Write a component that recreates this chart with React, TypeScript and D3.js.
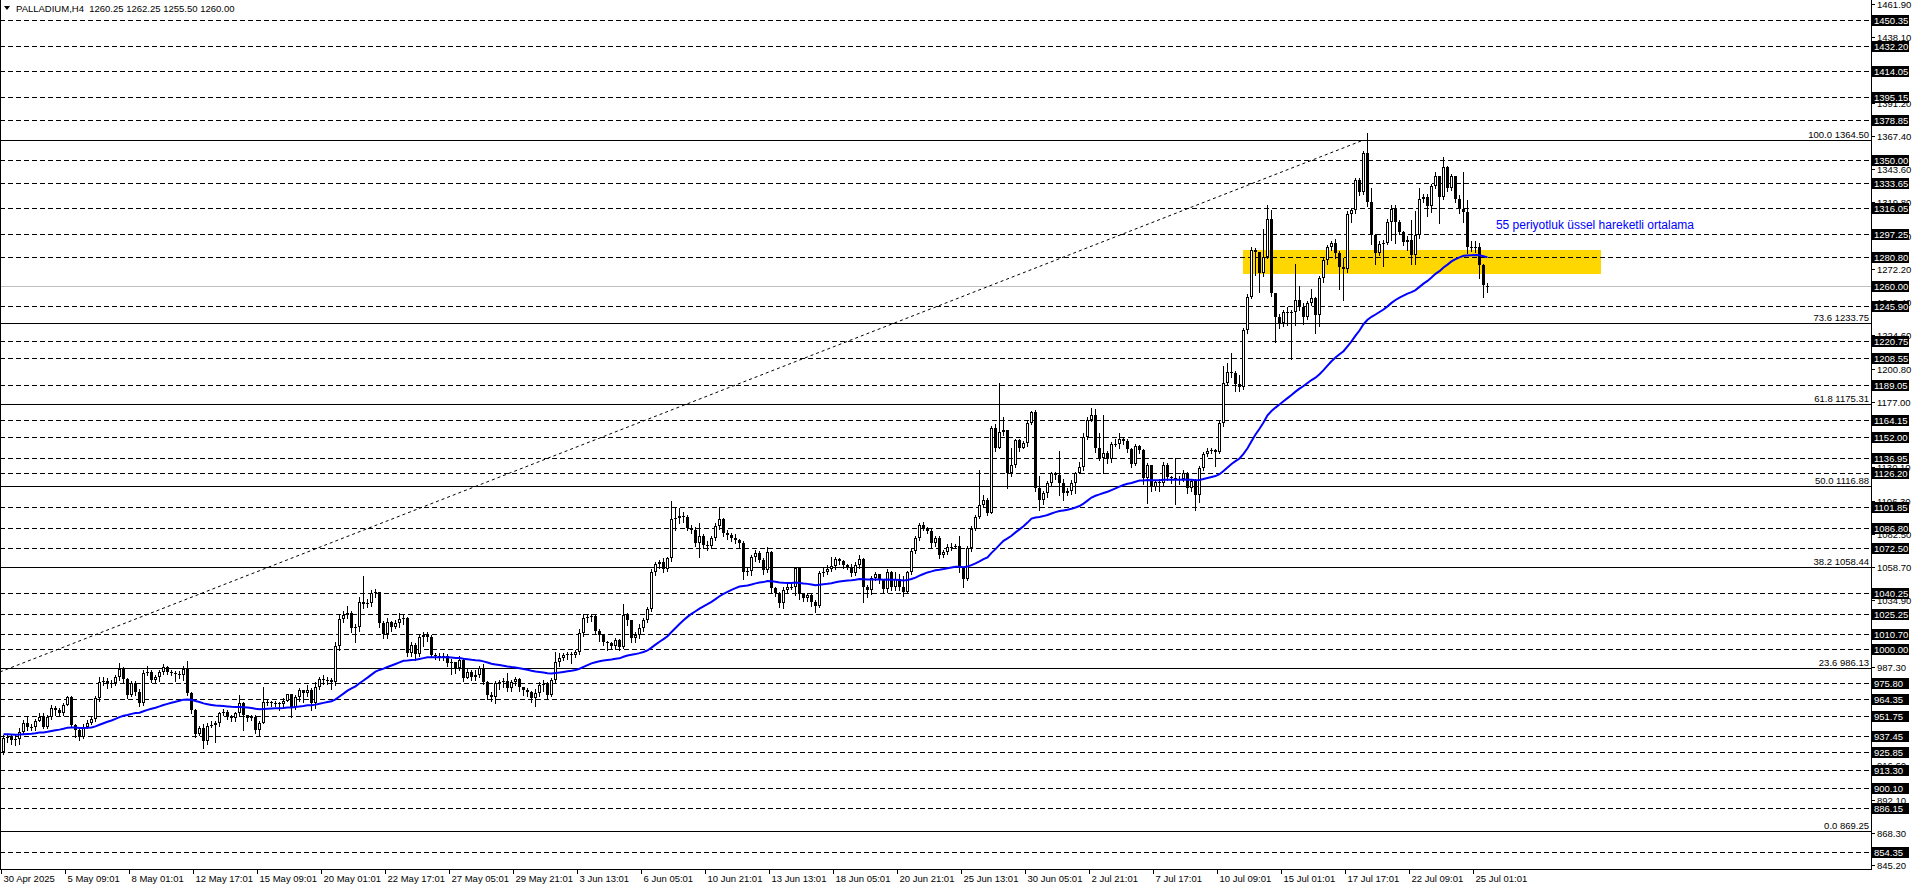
import React from "react";
import * as d3 from "d3";

const headerText = "PALLADIUM,H4  1260.25 1262.25 1255.50 1260.00";
const firstOpen = 926.4;
const lastOpen = 1260.25;

const closes = [
  935.9, 937.1, 934.7, 935.2, 940.7, 946.7, 944.3, 943.8, 948.4, 951.5,
  944.3, 951.5, 957.4, 956.2, 954.3, 959.8, 965.3, 945.5, 941.9, 937.1,
  944.3, 947.2, 949.5, 964.6, 976.5, 977.2, 974.6, 975.3, 979.6, 985.4,
  978.2, 967.0, 975.8, 969.4, 961.0, 983.0, 983.7, 977.7, 979.6, 983.5,
  986.8, 983.5, 982.5, 982.0, 981.1, 985.6, 968.2, 956.2, 938.8, 943.6,
  934.3, 945.0, 945.5, 946.7, 953.8, 955.0, 952.2, 950.3, 953.8, 961.0,
  952.6, 950.7, 951.5, 941.9, 947.2, 962.2, 961.7, 961.5, 961.0, 960.3,
  962.7, 967.5, 958.6, 965.3, 970.6, 968.2, 970.6, 961.0, 972.9, 978.2,
  977.7, 977.7, 976.5, 1002.3, 1021.2, 1024.3, 1025.5, 1014.7, 1015.9, 1033.8,
  1031.9, 1033.1, 1040.3, 1040.7, 1018.8, 1010.4, 1019.5, 1016.0, 1018.3, 1021.2,
  1021.9, 996.8, 1002.8, 996.3, 1008.8, 1010.0, 1008.8, 995.6, 994.9, 994.4,
  995.0, 990.1, 990.9, 986.1, 992.0, 979.4, 983.7, 980.1, 981.5, 986.1,
  976.5, 967.0, 965.8, 975.3, 976.5, 976.9, 971.7, 976.5, 978.2, 972.5,
  970.6, 969.4, 964.6, 968.2, 974.1, 974.8, 967.0, 977.7, 990.9, 993.2,
  995.6, 996.3, 995.6, 998.0, 1011.2, 1021.9, 1022.8, 1023.6, 1013.1, 1010.0,
  1005.2, 1004.0, 1002.1, 1006.4, 1001.6, 1024.0, 1021.0, 1008.0, 1010.0, 1015.3,
  1020.5, 1028.4, 1055.3, 1060.6, 1062.5, 1057.0, 1064.9, 1092.8, 1093.5, 1095.2,
  1094.5, 1086.4, 1085.2, 1076.1, 1080.9, 1074.4, 1073.7, 1079.2, 1088.0, 1092.8,
  1083.3, 1081.4, 1079.2, 1078.0, 1075.6, 1055.3, 1055.8, 1065.6, 1068.5, 1063.7,
  1056.5, 1069.7, 1043.4, 1039.8, 1032.6, 1042.2, 1044.6, 1044.6, 1057.7, 1039.3,
  1036.2, 1038.6, 1033.8, 1031.0, 1054.1, 1055.3, 1057.0, 1059.4, 1064.2, 1062.8,
  1060.1, 1058.9, 1054.1, 1059.9, 1064.2, 1044.6, 1042.2, 1050.5, 1053.6, 1049.4,
  1042.7, 1055.3, 1044.1, 1050.0, 1044.6, 1041.0, 1055.3, 1070.1, 1079.2, 1088.8,
  1086.9, 1084.7, 1075.6, 1079.2, 1067.3, 1069.7, 1073.2, 1073.2, 1073.7, 1058.9,
  1050.0, 1072.0, 1086.0, 1094.7, 1103.0, 1107.0, 1097.1, 1158.0, 1143.7, 1155.6,
  1156.8, 1125.7, 1131.7, 1149.6, 1143.7, 1147.2, 1162.0, 1169.9, 1115.0, 1106.6,
  1111.4, 1118.6, 1125.7, 1124.3, 1119.0, 1111.4, 1113.3, 1118.6, 1125.7, 1130.5,
  1152.0, 1164.0, 1167.5, 1143.7, 1137.0, 1140.0, 1135.8, 1146.5, 1147.0, 1150.1,
  1148.9, 1142.9, 1132.2, 1145.3, 1142.5, 1122.2, 1131.7, 1116.2, 1119.8, 1118.6,
  1131.7, 1123.3, 1122.1, 1121.3, 1121.5, 1126.2, 1115.0, 1120.0, 1110.2, 1129.3,
  1139.6, 1141.9, 1142.5, 1140.8, 1161.6, 1190.2, 1198.6, 1197.9, 1190.0, 1187.4,
  1228.4, 1252.3, 1285.8, 1284.0, 1269.0, 1281.0, 1307.7, 1254.7, 1238.0, 1233.7,
  1241.6, 1240.4, 1241.6, 1249.9, 1245.2, 1238.0, 1247.5, 1251.1, 1239.2, 1265.5,
  1278.6, 1287.7, 1291.0, 1283.4, 1273.3, 1271.9, 1311.3, 1314.4, 1335.9, 1327.5,
  1355.0, 1320.4, 1296.5, 1283.9, 1290.0, 1291.0, 1306.0, 1314.9, 1306.0, 1298.9,
  1291.7, 1293.2, 1282.2, 1296.5, 1322.1, 1324.0, 1317.3, 1331.6, 1338.8, 1324.0,
  1345.0, 1330.0, 1338.8, 1322.0, 1314.9, 1313.2, 1288.2, 1287.4, 1288.0, 1275.0,
  1260.7, 1260.0,
];

const highs = [
  938, 939, 938, 938, 943, 949, 952, 946, 950, 954,
  954, 953, 960, 959, 958, 961, 966, 966, 946, 943,
  946, 949, 952, 966, 980, 980, 979, 978, 981, 990,
  987, 979, 977, 977, 971, 985, 988, 985, 981, 985,
  989, 988, 985, 984, 984, 988, 991, 969, 957, 945,
  946, 947, 948, 948, 955, 957, 956, 953, 955, 967,
  962, 953, 953, 953, 948, 973, 964, 963, 963, 962,
  965, 968, 968, 967, 972, 970, 974, 972, 976, 980,
  981, 980, 979, 1005, 1024, 1027, 1031, 1027, 1018, 1037,
  1052, 1036, 1042, 1043, 1041, 1020, 1022, 1020, 1021, 1026,
  1025, 1023, 1005, 1004, 1011, 1012, 1012, 1010, 997, 997,
  997, 996, 993, 990, 995, 993, 986, 985, 985, 988,
  989, 977, 969, 977, 978, 979, 983, 978, 980, 979,
  973, 972, 970, 971, 976, 978, 976, 979, 998, 997,
  997, 998, 998, 999, 1014, 1025, 1025, 1025, 1025, 1014,
  1011, 1006, 1005, 1008, 1007, 1032, 1026, 1021, 1012, 1018,
  1022, 1030, 1057, 1062, 1064, 1065, 1066, 1105.9, 1101, 1101,
  1098, 1096, 1089, 1087, 1090, 1082, 1077, 1081, 1090, 1101.4,
  1094, 1085, 1083, 1082, 1079, 1077, 1058, 1067, 1071, 1070,
  1065, 1073, 1070, 1044, 1041, 1044, 1047, 1047, 1058, 1058,
  1040, 1040, 1039, 1035, 1056, 1058, 1060, 1066, 1066, 1065,
  1064, 1061, 1061, 1062, 1067, 1065, 1046, 1052, 1055, 1054,
  1050, 1057, 1056, 1055, 1054, 1052, 1056, 1072, 1081, 1090.4,
  1091, 1087, 1086, 1081, 1081, 1071, 1075, 1076, 1075, 1081,
  1059, 1074, 1088, 1096, 1128, 1110, 1108, 1160, 1161, 1190.2,
  1166, 1157, 1144, 1150, 1150, 1149, 1163, 1170.6, 1171, 1124,
  1113, 1120, 1127, 1127, 1142, 1122, 1115, 1121, 1127, 1134,
  1155, 1166, 1172.3, 1172, 1155, 1167.5, 1142, 1148, 1150, 1155,
  1152, 1150, 1144, 1147, 1146, 1143, 1133, 1132, 1121, 1122,
  1134, 1133, 1124, 1136.5, 1124, 1128, 1127, 1122, 1122, 1131,
  1141, 1144, 1144, 1143, 1163, 1203, 1204.5, 1211.7, 1199, 1196,
  1230, 1254, 1288, 1287, 1276, 1301, 1318, 1314.4, 1255, 1240,
  1243, 1245, 1243, 1275.8, 1260, 1248, 1249, 1258, 1252, 1267,
  1280, 1289, 1292.5, 1293.5, 1285, 1280, 1314, 1316, 1337, 1337,
  1357, 1369.3, 1330, 1297, 1292, 1293, 1308, 1318, 1318, 1307,
  1299, 1296, 1307, 1314, 1329.9, 1326, 1326, 1333, 1341.9, 1338,
  1352.6, 1346, 1340, 1339, 1325, 1341.9, 1321.6, 1292, 1292, 1291,
  1276, 1262.25,
];

const lows = [
  925, 933, 932, 931, 932, 939, 942, 942, 942, 949,
  943, 943, 950, 953, 952, 953, 960, 944, 937, 935,
  936, 943, 946, 948, 963, 974, 972, 973, 974, 978,
  976, 965, 966, 967, 959, 960, 981, 976, 976, 977,
  982, 982, 981, 977, 979, 978, 967, 954, 937, 938,
  929, 932, 944, 933, 945, 953, 950, 948, 948, 952,
  942, 948, 949, 940, 938, 947, 960, 959, 959, 956,
  958, 963, 951, 957, 963, 962, 966, 956, 958, 971,
  975, 975, 971, 974, 999, 1019, 1022, 1012, 1005, 1013,
  1029, 1030, 1031, 1037, 1016, 1008, 1008, 1013, 1015, 1016,
  1018, 995, 995, 992, 995, 1002, 1006, 994, 993, 992,
  992, 988, 982, 983, 985, 977, 979, 978, 978, 980,
  975, 964, 963, 961, 971, 973, 970, 970, 974, 970,
  967, 966, 962, 959, 966, 970, 965, 966, 976, 988,
  992, 993, 990, 994, 996, 1009, 1019, 1020, 1011, 1006,
  1003, 999, 1000, 1000, 999, 1001, 1017, 1005, 1005, 1008,
  1013, 1019, 1027, 1053, 1058, 1055, 1056, 1063, 1085, 1090,
  1091, 1085, 1083, 1074, 1065.6, 1072, 1071, 1072, 1078, 1086,
  1081, 1079, 1077, 1076, 1073, 1049.8, 1053, 1053, 1063, 1062,
  1054, 1055, 1040, 1038, 1030, 1029, 1040, 1043, 1038.6, 1036,
  1034, 1034, 1031, 1026.7, 1030, 1052, 1054, 1056, 1057, 1061,
  1058, 1057, 1052, 1053, 1058, 1033.4, 1037, 1039, 1049, 1047,
  1040, 1041, 1042, 1042, 1042, 1037.9, 1040, 1054, 1069, 1078,
  1085, 1083, 1073, 1074, 1065, 1066, 1068, 1071, 1072, 1055.3,
  1044, 1049, 1070, 1085, 1094, 1102, 1095.9, 1097, 1142, 1144,
  1153, 1115, 1124, 1130, 1142, 1144, 1145, 1161, 1113, 1099.5,
  1104, 1109, 1117, 1122, 1110, 1107, 1110, 1111, 1112, 1126,
  1128, 1150, 1163, 1141, 1135, 1125.7, 1133, 1134, 1145, 1144,
  1147, 1141, 1130, 1132, 1140, 1118, 1104.2, 1113, 1114, 1113,
  1117, 1121, 1119, 1104, 1118, 1120, 1112, 1113, 1099.5, 1105,
  1128, 1138, 1140, 1131, 1140, 1160, 1189, 1195, 1185, 1185,
  1186, 1226, 1251, 1268, 1256, 1267, 1280, 1253, 1220, 1230,
  1231, 1232, 1208, 1232, 1243, 1233, 1236, 1246, 1226.5, 1231,
  1263, 1276, 1286, 1280, 1257.6, 1250, 1270, 1306, 1312, 1325,
  1326, 1317, 1290, 1276, 1282, 1274, 1290, 1293, 1291, 1297,
  1289, 1286, 1276, 1276, 1294, 1320, 1310, 1313, 1330, 1304.9,
  1322, 1328, 1329, 1320, 1312, 1306, 1283.9, 1285, 1284, 1265.5,
  1252.3, 1255.5,
];

const timeLabels = [
  "30 Apr 2025", "5 May 09:01", "8 May 01:01", "12 May 17:01", "15 May 09:01",
  "20 May 01:01", "22 May 17:01", "27 May 05:01", "29 May 21:01", "3 Jun 13:01",
  "6 Jun 05:01", "10 Jun 21:01", "13 Jun 13:01", "18 Jun 05:01", "20 Jun 21:01",
  "25 Jun 13:01", "30 Jun 05:01", "2 Jul 21:01", "7 Jul 17:01", "10 Jul 09:01",
  "15 Jul 01:01", "17 Jul 17:01", "22 Jul 09:01", "25 Jul 01:01",
];
const labelStep = 16;

// plain price-scale ticks that are at least partly visible in the reference
const priceTicks = [
  1461.9, 1438.1, 1391.2, 1367.4, 1343.6, 1319.8, 1296.0, 1272.2, 1248.4,
  1224.6, 1200.8, 1177.0, 1130.1, 1106.3, 1082.5, 1058.7, 1034.9,
  987.3, 916.6, 892.1, 868.3, 845.2,
];

const levelLines = [
  1450.35, 1432.2, 1414.05, 1395.15, 1378.85, 1350.0, 1333.65, 1316.05, 1297.25, 1280.8,
  1245.9, 1220.75, 1208.55, 1189.05, 1164.15, 1152.0, 1136.95, 1126.2, 1101.85, 1086.8,
  1072.5, 1040.25, 1025.25, 1010.7, 1000.0, 975.8, 964.35, 951.75, 937.45, 925.85,
  913.3, 900.1, 886.15, 854.35,
];
const currentPrice = 1260.0;

const fibPcts = ["100.0", "73.6", "61.8", "50.0", "38.2", "23.6", "0.0"];
const fibPrices = [1364.5, 1233.75, 1175.31, 1116.88, 1058.44, 986.13, 869.25];

const trendBars = [-0.875, 340];
const trendPrices = [983.5, 1364.5];

const zoneBars = [309.8, 399.4];
const zonePrices = [1268.5, 1286.0];

const emaPeriod = 55;
const emaSeed = 939;

const noteText = "55 periyotluk üssel hareketli ortalama";
const noteBar = 373.1;
const notePrice = 1300.8;

const FONT = "'Liberation Sans', Arial, sans-serif";

export default function App() {
  const W = 1916;
  const H = 888;
  const axisX = 1871;
  const bottomY = 869;
  const fs = 9.5;

  const x = d3.scaleLinear().domain([0, 371]).range([3.5, 1487.5]);
  const y = d3.scaleLinear().domain([845.2, 1461.9]).range([865, 4.08]);
  const py = (p: number) => Math.round(y(p)) + 0.5;

  const opens = closes.map((c, i) => (i === 0 ? firstOpen : i === closes.length - 1 ? lastOpen : closes[i - 1]));

  const alpha = 2 / (emaPeriod + 1);
  const ema: number[] = [];
  closes.forEach((c, i) => {
    const prev = i === 0 ? emaSeed : ema[i - 1];
    ema.push(prev + alpha * (c - prev));
  });
  const emaPath = d3
    .line<number>()
    .x((_, i) => x(i))
    .y((d) => y(d))(ema) as string;

  const candles = closes.map((c, i) => {
    const o = opens[i];
    const h = Math.max(highs[i], o, c);
    const l = Math.min(lows[i], o, c);
    const cx = x(i);
    const top = Math.round(y(Math.max(o, c)));
    const bot = Math.round(y(Math.min(o, c)));
    const bull = c >= o;
    return (
      <g key={i}>
        <line x1={cx} x2={cx} y1={Math.round(y(h))} y2={Math.round(y(l)) + 1} stroke="#000" strokeWidth={1} />
        {bot - top < 2 ? (
          <rect x={cx - 1.5} y={top} width={3} height={Math.max(bot - top, 1)} fill="#000" />
        ) : bull ? (
          <rect x={cx - 1} y={top + 0.5} width={2} height={bot - top - 1} fill="#fff" stroke="#000" strokeWidth={1} />
        ) : (
          <rect x={cx - 1.5} y={top} width={3} height={bot - top} fill="#000" />
        )}
      </g>
    );
  });

  return (
    <svg
      width={W}
      height={H}
      style={{ position: "fixed", left: 0, top: 0, background: "#fff", display: "block" }}
      fontFamily={FONT}
    >
      <rect x={0} y={0} width={W} height={H} fill="#fff" />
      <g shapeRendering="crispEdges">
        <rect
          x={x(zoneBars[0])}
          y={y(zonePrices[1])}
          width={x(zoneBars[1]) - x(zoneBars[0])}
          height={y(zonePrices[0]) - y(zonePrices[1])}
          fill="#FFD700"
        />
        {levelLines.map((p) => (
          <line key={p} x1={0} x2={axisX} y1={py(p)} y2={py(p)} stroke="#000" strokeWidth={1} strokeDasharray="5,3" />
        ))}
        <line x1={0} x2={axisX} y1={py(currentPrice)} y2={py(currentPrice)} stroke="#C0C0C0" strokeWidth={1} />
        {fibPrices.map((p) => (
          <line key={p} x1={0} x2={axisX} y1={py(p)} y2={py(p)} stroke="#000" strokeWidth={1} />
        ))}
      </g>
      <line
        x1={x(trendBars[0])}
        y1={y(trendPrices[0])}
        x2={x(trendBars[1])}
        y2={y(trendPrices[1])}
        stroke="#000"
        strokeWidth={1}
        strokeDasharray="3,3"
      />
      {fibPrices.map((p, i) => (
        <text key={p} x={axisX - 2} y={py(p) - 2.5} fontSize={fs} textAnchor="end" fill="#000">
          {`${fibPcts[i]} ${p.toFixed(2)}`}
        </text>
      ))}
      <g shapeRendering="crispEdges">{candles}</g>
      <path d={emaPath} fill="none" stroke="#0000FF" strokeWidth={2} />
      <text x={x(noteBar)} y={y(notePrice)} fontSize={12} fill="#0000FF">
        {noteText}
      </text>
      <path d="M4,6 L10,6 L7,10 Z" fill="#000" />
      <text x={16} y={12} fontSize={fs} fill="#000" xmlSpace="preserve">
        {headerText}
      </text>
      <g shapeRendering="crispEdges">
        <line x1={0.5} x2={0.5} y1={0} y2={bottomY} stroke="#000" />
        <line x1={axisX + 0.5} x2={axisX + 0.5} y1={0} y2={bottomY + 1} stroke="#000" />
        <line x1={0} x2={axisX + 1} y1={bottomY + 0.5} y2={bottomY + 0.5} stroke="#000" />
      </g>
      <g shapeRendering="crispEdges">
        {priceTicks.map((p) => (
          <line key={p} x1={axisX + 1} x2={axisX + 4} y1={py(p)} y2={py(p)} stroke="#000" />
        ))}
      </g>
      {priceTicks.map((p) => (
        <text key={p} x={axisX + 6} y={py(p) + 3.5} fontSize={fs} fill="#000">
          {p.toFixed(2)}
        </text>
      ))}
      {[...levelLines, currentPrice].map((p) => (
        <g key={"l" + p}>
          <rect x={axisX + 1} y={Math.round(y(p)) - 5} width={37} height={11} fill="#000" shapeRendering="crispEdges" />
          <text x={axisX + 3} y={py(p) + 3.5} fontSize={fs} fill="#fff">
            {p.toFixed(2)}
          </text>
        </g>
      ))}
      <g shapeRendering="crispEdges">
        {timeLabels.map((t, i) => (
          <line key={t} x1={x(i * labelStep) - 2} x2={x(i * labelStep) - 2} y1={bottomY} y2={bottomY + 5} stroke="#000" />
        ))}
      </g>
      {timeLabels.map((t, i) => (
        <text key={t} x={x(i * labelStep)} y={bottomY + 13} fontSize={fs} fill="#000">
          {t}
        </text>
      ))}
    </svg>
  );
}
